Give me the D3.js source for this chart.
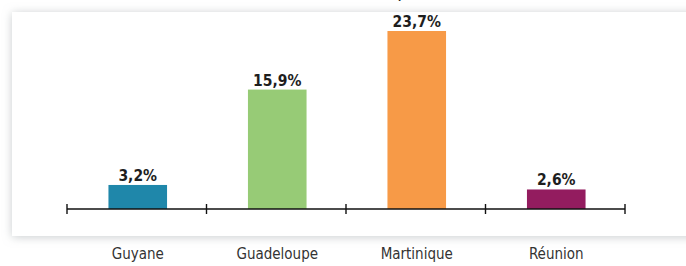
<!DOCTYPE html>
<html>
<head>
<meta charset="utf-8">
<script src="https://cdn.jsdelivr.net/npm/d3@7"></script>
<style>
  body { margin: 0; background: #fff; }
  svg { display: block; }
</style>
</head>
<body>
<div class="chart"></div>
<script>
// data
const categories = ['Guyane', 'Guadeloupe', 'Martinique', 'Réunion'];
const values = [3.2, 15.9, 23.7, 2.6];
const valueLabels = ['3,2%', '15,9%', '23,7%', '2,6%'];
const colors = ['#1f87aa', '#97cb76', '#f79a47', '#931c5f'];

const width = 686, height = 266;
const font = '"DejaVu Sans Condensed", "DejaVu Sans", sans-serif';

const svg = d3.select('.chart').append('svg')
    .attr('width', width)
    .attr('height', height);

// soft shadow round the white panel
const defs = svg.append('defs');
const f = defs.append('filter').attr('id', 'shade')
    .attr('x', '-10%').attr('y', '-20%').attr('width', '120%').attr('height', '140%');
f.append('feDropShadow')
    .attr('dx', 0).attr('dy', 1)
    .attr('stdDeviation', 5)
    .attr('flood-color', '#a4abae')
    .attr('flood-opacity', 0.6);

svg.append('rect')
    .attr('x', 12).attr('y', 12)
    .attr('width', 720).attr('height', 224)
    .attr('fill', '#fff')
    .attr('filter', 'url(#shade)');

// tail of the title cut off above
svg.append('text')
    .text(',')
    .attr('x', 398).attr('y', -1)
    .attr('font-family', font)
    .attr('font-weight', 'bold')
    .attr('font-size', 15)
    .attr('fill', '#222');

const x = d3.scaleBand()
    .domain(categories)
    .range([67, 625])
    .paddingInner(0.58)
    .paddingOuter(0.29);

const y = d3.scaleLinear()
    .domain([0, 23.7])
    .range([209, 31]);

// bars
svg.selectAll('rect.bar')
    .data(values)
    .enter().append('rect')
    .attr('class', 'bar')
    .attr('x', (d, i) => x(categories[i]) + 1)
    .attr('y', d => y(d))
    .attr('width', x.bandwidth())
    .attr('height', d => y(0) - y(d))
    .attr('fill', (d, i) => colors[i]);

// value labels
svg.selectAll('text.val')
    .data(values)
    .enter().append('text')
    .attr('class', 'val')
    .text((d, i) => valueLabels[i])
    .attr('x', (d, i) => x(categories[i]) + 1 + x.bandwidth() / 2)
    .attr('y', d => y(d) - 4)
    .attr('text-anchor', 'middle')
    .attr('font-family', font)
    .attr('font-weight', 'bold')
    .attr('font-size', 15.5)
    .attr('fill', '#1e1e1e');

// axis line with ticks between categories
const tickPos = d3.range(categories.length + 1)
    .map(i => 67 + i * (625 - 67) / categories.length);

svg.append('line')
    .attr('x1', 67).attr('x2', 625)
    .attr('y1', y(0)).attr('y2', y(0))
    .attr('stroke', '#111')
    .attr('stroke-width', 1.4);

svg.selectAll('line.tick')
    .data(tickPos)
    .enter().append('line')
    .attr('class', 'tick')
    .attr('x1', d => d).attr('x2', d => d)
    .attr('y1', y(0) - 5).attr('y2', y(0) + 5)
    .attr('stroke', '#111')
    .attr('stroke-width', 1.4);

// category labels below the panel
svg.selectAll('text.cat')
    .data(categories)
    .enter().append('text')
    .attr('class', 'cat')
    .text(d => d)
    .attr('x', d => x(d) + 1 + x.bandwidth() / 2)
    .attr('y', 259)
    .attr('text-anchor', 'middle')
    .attr('font-family', font)
    .attr('font-size', 15)
    .attr('fill', '#333');
</script>
</body>
</html>
